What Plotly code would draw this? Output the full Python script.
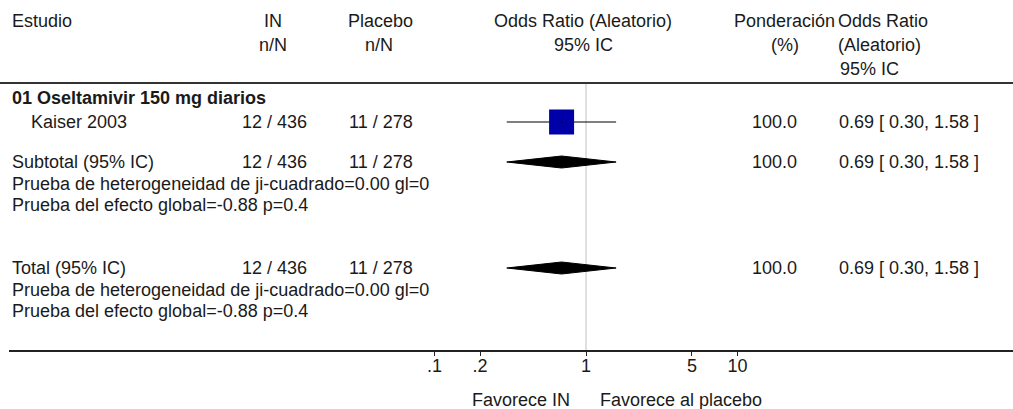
import math
import plotly.graph_objects as go

# ---------------- data ----------------
group_label = "01 Oseltamivir 150 mg diarios"
studies = ["Kaiser 2003"]
in_events = [12]
in_totals = [436]
pl_events = [11]
pl_totals = [278]
or_est = [0.69]
or_low = [0.30]
or_high = [1.58]
weights = [100.0]

sub_or = 0.69
sub_low = 0.30
sub_high = 1.58
sub_weight = 100.0
tot_or = 0.69
tot_low = 0.30
tot_high = 1.58
tot_weight = 100.0
het_text = "Prueba de heterogeneidad de ji-cuadrado=0.00 gl=0"
eff_text = "Prueba del efecto global=-0.88 p=0.4"

tick_vals = [0.1, 0.2, 1, 5, 10]
tick_text = [".1", ".2", "1", "5", "10"]

# ---------------- layout constants ----------------
W, H = 1013, 409
FONT = "Liberation Sans, Arial, sans-serif"
FS = 18
TXT = "#1a1a1a"
AX_BOTTOM = 350          # pixel row of the bottom axis
X_ONE = 586.0            # pixel of OR = 1
DECADE = 151.5           # pixels per decade
AX_LEFT = 9

def px2log(px):
    return (px - X_ONE) / DECADE

fig = go.Figure()

# y rows (pixel centres)
Y_STUDY = [122]
Y_SUB = 162
Y_TOT = 268
HALF_D = 6

# study CI lines & squares
for i in range(len(studies)):
    fig.add_trace(go.Scatter(x=[or_low[i], or_high[i]], y=[Y_STUDY[i]] * 2, mode="lines",
                             line=dict(color="black", width=1), hoverinfo="skip", showlegend=False))
    fig.add_trace(go.Scatter(x=[or_est[i]], y=[Y_STUDY[i]], mode="markers",
                             marker=dict(symbol="square", size=25, color="#0000A8", line=dict(width=0)),
                             hoverinfo="skip", showlegend=False))
    fig.add_trace(go.Scatter(x=[or_est[i]], y=[Y_STUDY[i]], mode="markers",
                             marker=dict(symbol="circle", size=2, color="black"),
                             hoverinfo="skip", showlegend=False))

# diamonds
for (est, lo, hi, yc) in [(sub_or, sub_low, sub_high, Y_SUB), (tot_or, tot_low, tot_high, Y_TOT)]:
    fig.add_trace(go.Scatter(x=[lo, est, hi, est, lo], y=[yc, yc - HALF_D, yc, yc + HALF_D, yc],
                             mode="lines", fill="toself", fillcolor="black",
                             line=dict(color="black", width=1), hoverinfo="skip", showlegend=False))

# ---------------- texts ----------------
ann = []
def txt(s, x, y, anchor="left", bold=False):
    ann.append(dict(text=("<b>%s</b>" % s) if bold else s, x=x / W, y=1 - y / H,
                    xref="paper", yref="paper", xanchor=anchor, yanchor="middle",
                    showarrow=False, font=dict(family=FONT, size=FS, color=TXT)))

# header
txt("Estudio", 10, 21)
txt("IN", 273, 21, "center"); txt("n/N", 273, 45, "center")
txt("Placebo", 380, 21, "center"); txt("n/N", 379, 45, "center")
txt("Odds Ratio (Aleatorio)", 583, 21, "center"); txt("95% IC", 583, 45, "center")
txt("Ponderación", 784, 21, "center"); txt("(%)", 785, 45, "center")
txt("Odds Ratio", 836, 21); txt("(Aleatorio)", 836, 45); txt("95% IC", 838, 69)

txt(group_label, 10, 98, bold=True)
for i, s in enumerate(studies):
    yy = Y_STUDY[i]
    txt(s, 29, yy)
    txt("%d / %d" % (in_events[i], in_totals[i]), 274, yy, "center")
    txt("%d / %d" % (pl_events[i], pl_totals[i]), 381, yy, "center")
    txt("%.1f" % weights[i], 799, yy, "right")
    txt("%.2f [ %.2f, %.2f ]" % (or_est[i], or_low[i], or_high[i]), 837, yy)

def summary(label, est, lo, hi, w, yc):
    txt(label, 10, yc)
    txt("%d / %d" % (sum(in_events), sum(in_totals)), 274, yc, "center")
    txt("%d / %d" % (sum(pl_events), sum(pl_totals)), 381, yc, "center")
    txt("%.1f" % w, 799, yc, "right")
    txt("%.2f [ %.2f, %.2f ]" % (est, lo, hi), 837, yc)
    txt(het_text, 10, yc + 22)
    txt(eff_text, 10, yc + 43)

summary("Subtotal (95% IC)", sub_or, sub_low, sub_high, sub_weight, Y_SUB)
summary("Total (95% IC)", tot_or, tot_low, tot_high, tot_weight, Y_TOT)

txt("Favorece IN", 572, 400, "right")
txt("Favorece al placebo", 598, 400)

# ---------------- shapes ----------------
shapes = [
    dict(type="line", xref="paper", yref="paper", x0=0, x1=1, y0=1 - 83 / H, y1=1 - 83 / H,
         line=dict(color="#333333", width=2)),
    dict(type="line", xref="x", yref="y", x0=1, x1=1, y0=84, y1=AX_BOTTOM,
         line=dict(color="#c0c0c0", width=1), layer="below"),
]

fig.update_layout(
    width=W, height=H, margin=dict(l=0, r=0, t=0, b=0),
    paper_bgcolor="white", plot_bgcolor="white",
    showlegend=False, annotations=ann, shapes=shapes,
    xaxis=dict(type="log", domain=[AX_LEFT / W, 1], range=[px2log(AX_LEFT), px2log(W)],
               showgrid=False, zeroline=False, showline=True, linecolor="#222222", linewidth=2,
               ticks="outside", ticklen=4, tickcolor="#222222", tickwidth=1,
               tickvals=tick_vals, ticktext=tick_text, ticklabelstandoff=-6,
               tickfont=dict(family=FONT, size=FS, color=TXT), fixedrange=True),
    yaxis=dict(domain=[1 - AX_BOTTOM / H, 1], range=[AX_BOTTOM, 0], visible=False, fixedrange=True),
)

fig.write_html("out.html")
